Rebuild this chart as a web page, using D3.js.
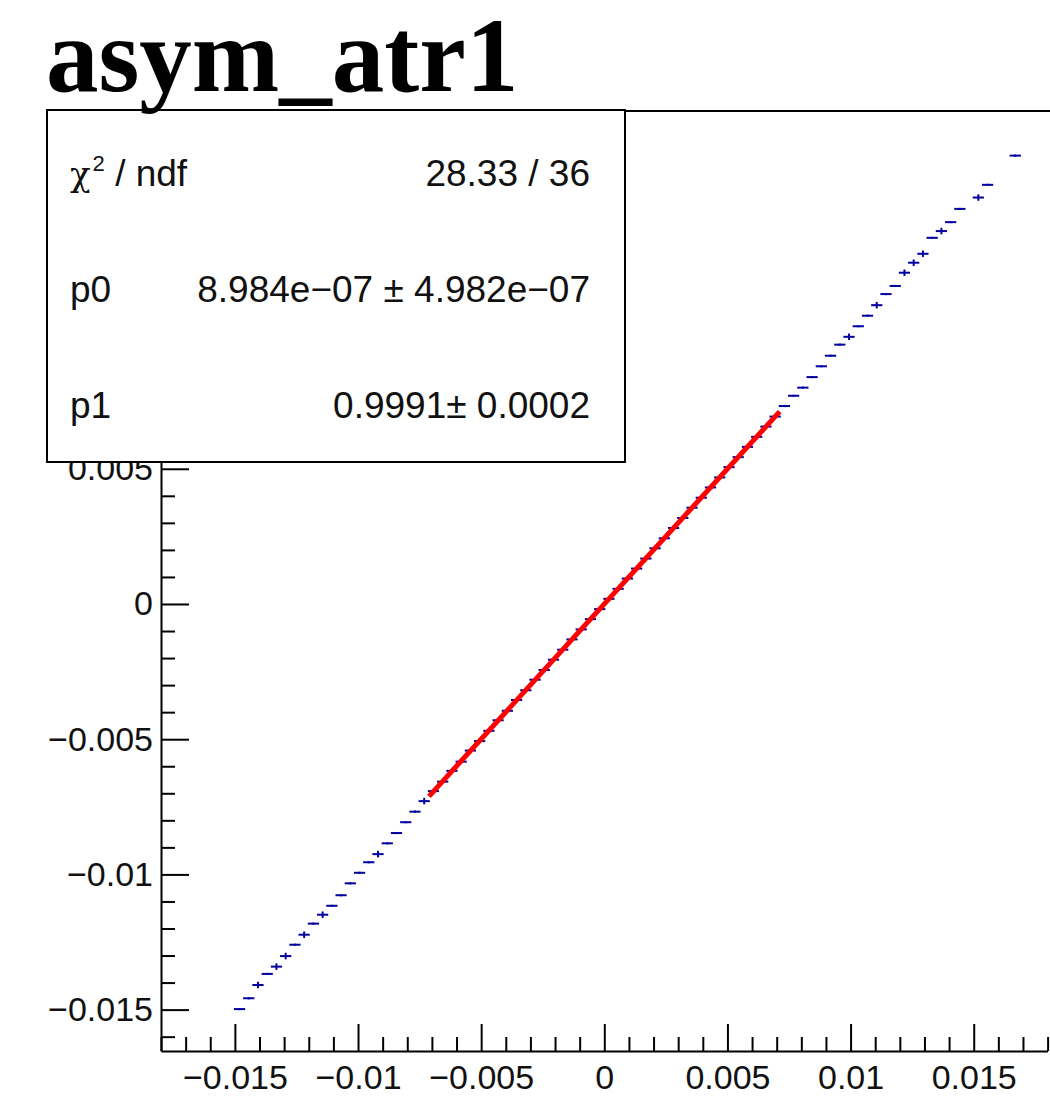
<!DOCTYPE html>
<html>
<head>
<meta charset="utf-8">
<script src="https://cdn.jsdelivr.net/npm/d3@7"></script>
<style>
  html, body { margin: 0; padding: 0; background: #fff; }
  svg { display: block; }
</style>
</head>
<body>
<svg id="chart" width="1050" height="1119"></svg>
<script>
// ---------------- data ----------------
const title = "asym_atr1";

// profile bin centres (x) and mean values (y)
const binX = [
  -0.0148125, -0.0144375, -0.0140625, -0.0136875, -0.0133125, -0.0129375, -0.0125625,
  -0.0121875, -0.0118125, -0.0114375, -0.0110625, -0.0106875, -0.0103125, -0.0099375,
  -0.0095625, -0.0091875, -0.0088125, -0.0084375, -0.0080625, -0.0076875, -0.0073125,
  -0.0069375, -0.0065625, -0.0061875, -0.0058125, -0.0054375, -0.0050625, -0.0046875,
  -0.0043125, -0.0039375, -0.0035625, -0.0031875, -0.0028125, -0.0024375, -0.0020625,
  -0.0016875, -0.0013125, -0.0009375, -0.0005625, -0.0001875,  0.0001875,  0.0005625,
   0.0009375,  0.0013125,  0.0016875,  0.0020625,  0.0024375,  0.0028125,  0.0031875,
   0.0035625,  0.0039375,  0.0043125,  0.0046875,  0.0050625,  0.0054375,  0.0058125,
   0.0061875,  0.0065625,  0.0069375,  0.0073125,  0.0076875,  0.0080625,  0.0084375,
   0.0088125,  0.0091875,  0.0095625,  0.0099375,  0.0103125,  0.0106875,  0.0110625,
   0.0114375,  0.0118125,  0.0121875,  0.0125625,  0.0129375,  0.0133125,  0.0136875,
   0.0140625,  0.0144375,  0.0151875,  0.0155625,  0.0166875
];
const binY = [
  -0.01498, -0.01458, -0.01409, -0.01368, -0.01341, -0.01302, -0.01260,
  -0.01223, -0.01182, -0.01149, -0.01116, -0.01077, -0.01033, -0.00994,
  -0.00955, -0.00925, -0.00885, -0.00847, -0.00807, -0.00768, -0.00729,
  -0.00692, -0.00657, -0.00617, -0.00583, -0.00542, -0.00507, -0.00469,
  -0.00430, -0.00395, -0.00355, -0.00319, -0.00280, -0.00244, -0.00206,
  -0.00169, -0.00131, -0.00094, -0.00056, -0.00019,  0.00019,  0.00056,
   0.00094,  0.00131,  0.00168,  0.00206,  0.00243,  0.00281,  0.00318,
   0.00356,  0.00393,  0.00431,  0.00468,  0.00506,  0.00543,  0.00581,
   0.00618,  0.00656,  0.00693,  0.00732,  0.00770,  0.00800,  0.00839,
   0.00879,  0.00918,  0.00959,  0.00988,  0.01027,  0.01066,  0.01105,
   0.01146,  0.01176,  0.01225,  0.01262,  0.01295,  0.01354,  0.01379,
   0.01412,  0.01461,  0.01503,  0.01550,  0.01658
];
const binErr = [
  0.00004, 0.00004, 0.00012, 0.00004, 0.00012, 0.00012, 0.00004,
  0.00012, 0.00004, 0.00012, 0.00004, 0.00004, 0.00004, 0.00004,
  0.00004, 0.00012, 0.00004, 0.00004, 0.00004, 0.00004, 0.00012,
  0.00004, 0.00004, 0.00004, 0.00004, 0.00004, 0.00004, 0.00004,
  0.00004, 0.00004, 0.00004, 0.00004, 0.00004, 0.00004, 0.00004,
  0.00004, 0.00004, 0.00004, 0.00004, 0.00004, 0.00004, 0.00004,
  0.00004, 0.00004, 0.00004, 0.00004, 0.00004, 0.00004, 0.00004,
  0.00004, 0.00004, 0.00004, 0.00004, 0.00004, 0.00004, 0.00004,
  0.00004, 0.00004, 0.00004, 0.00004, 0.00004, 0.00004, 0.00004,
  0.00004, 0.00004, 0.00004, 0.00012, 0.00004, 0.00004, 0.00012,
  0.00004, 0.00004, 0.00012, 0.00012, 0.00012, 0.00004, 0.00012,
  0.00004, 0.00004, 0.00012, 0.00004, 0.00004
];
const binWidth = 0.000375;

// fit (pol1) parameters and range
const fitRange = [-0.00712, 0.00712];
const p0 = 8.984e-07;
const p1 = 0.9991;

// axis ticks
const xMajorTicks = [-0.015, -0.01, -0.005, 0, 0.005, 0.01, 0.015];
const yMajorTicks = [-0.015, -0.01, -0.005, 0, 0.005, 0.01, 0.015];
const tickLabels = {"-0.015":"\u22120.015","-0.01":"\u22120.01","-0.005":"\u22120.005","0":"0","0.005":"0.005","0.01":"0.01","0.015":"0.015"};

// stats box rows
const statLabels = ["chi2", "p0", "p1"];
const statValues = ["28.33 / 36", "8.984e\u221207 \u00b1 4.982e\u221207", "0.9991\u00b1 0.0002"];

// ---------------- drawing ----------------
const svg = d3.select("#chart");
const FONT = "'Liberation Sans', Arial, Helvetica, sans-serif";

const x = d3.scaleLinear().domain([-0.018, 0.018]).range([161, 1047.6]);
const y = d3.scaleLinear().domain([-0.01653, 0.01823]).range([1051, 111]);

const minorX = d3.range(-18, 19).map(v => v / 1000).filter(v => !xMajorTicks.some(m => Math.abs(m - v) < 1e-9));
const minorY = d3.range(-16, 19).map(v => v / 1000).filter(v => !yMajorTicks.some(m => Math.abs(m - v) < 1e-9));
const fmt = d => tickLabels[String(+d.toFixed(3))] ?? String(d);

// frame top line
svg.append("line").attr("x1", 161).attr("x2", 1050).attr("y1", 111).attr("y2", 111)
  .attr("stroke", "#000").attr("stroke-width", 2);

// X axis
const gx = svg.append("g").attr("transform", `translate(0,${y.range()[0]})`);
gx.call(d3.axisBottom(x).tickValues(xMajorTicks).tickFormat(fmt)
  .tickSizeInner(-27).tickSizeOuter(0).tickPadding(14));
gx.append("g").call(d3.axisBottom(x).tickValues(minorX).tickFormat("")
  .tickSizeInner(-14).tickSizeOuter(0))
  .select(".domain").remove();

// Y axis
const gy = svg.append("g").attr("transform", `translate(${x.range()[0]},0)`);
gy.call(d3.axisLeft(y).tickValues(yMajorTicks).tickFormat(fmt)
  .tickSizeInner(-28).tickSizeOuter(0).tickPadding(8));
gy.append("g").call(d3.axisLeft(y).tickValues(minorY).tickFormat("")
  .tickSizeInner(-14).tickSizeOuter(0))
  .select(".domain").remove();

svg.selectAll(".domain").attr("stroke", "#000").attr("stroke-width", 2);
svg.selectAll(".tick line").attr("stroke", "#000").attr("stroke-width", 2);
svg.selectAll(".tick text").attr("font-family", FONT).attr("font-size", 34).attr("fill", "#111");

// profile points
const pts = binX.map((bx, i) => ({x: bx, y: binY[i], e: binErr[i]}));
const gp = svg.append("g").attr("stroke", "#0000a0").attr("stroke-width", 2);
gp.selectAll("line.h").data(pts).join("line").attr("class", "h")
  .attr("stroke-linecap", "square")
  .attr("x1", d => x(d.x - binWidth / 2)).attr("x2", d => x(d.x + binWidth / 2))
  .attr("y1", d => y(d.y)).attr("y2", d => y(d.y));
gp.selectAll("line.v").data(pts).join("line").attr("class", "v")
  .attr("x1", d => x(d.x)).attr("x2", d => x(d.x))
  .attr("y1", d => y(d.y - d.e)).attr("y2", d => y(d.y + d.e));

// fit line
const fitPts = fitRange.map(v => [v, p0 + p1 * v]);
svg.append("path").datum(fitPts)
  .attr("d", d3.line().x(d => x(d[0])).y(d => y(d[1])))
  .attr("fill", "none").attr("stroke", "#ff0000").attr("stroke-width", 5);

// stats box
svg.append("rect").attr("x", 47).attr("y", 110).attr("width", 578).attr("height", 352)
  .attr("fill", "#fff").attr("stroke", "#000").attr("stroke-width", 2);
const rowY = [186, 302, 418];
statLabels.forEach((lab, i) => {
  const t = svg.append("text").attr("x", 70).attr("y", rowY[i])
    .attr("font-family", FONT).attr("font-size", 37).attr("fill", "#111");
  if (lab === "chi2") {
    t.append("tspan").attr("font-family", "'DejaVu Serif', serif").attr("font-size", 34).text("\u03c7");
    t.append("tspan").attr("font-size", 22).attr("dy", -15).attr("dx", 2).text("2");
    t.append("tspan").attr("dy", 15).text(" / ndf");
  } else {
    t.text(lab);
  }
  svg.append("text").attr("x", 590).attr("y", rowY[i]).attr("text-anchor", "end")
    .attr("font-family", FONT).attr("font-size", 37).attr("fill", "#111")
    .text(statValues[i]);
});

// title
svg.append("text").attr("x", 46).attr("y", 91)
  .attr("font-family", "'Liberation Serif', 'Times New Roman', serif")
  .attr("font-weight", "bold").attr("font-size", 105).attr("fill", "#000")
  .text(title);
</script>
</body>
</html>
